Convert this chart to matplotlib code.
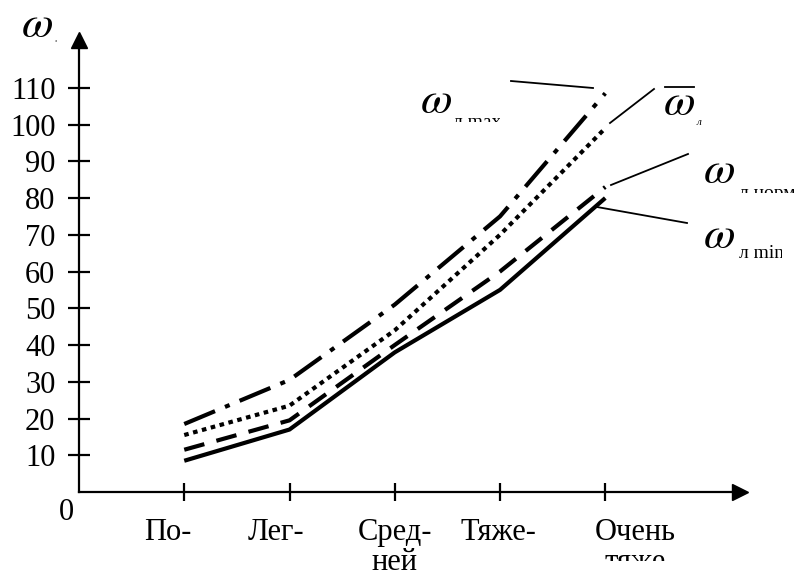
import matplotlib
matplotlib.use("Agg")
import matplotlib.pyplot as plt
from matplotlib.lines import Line2D
from matplotlib.transforms import ScaledTranslation, Bbox

plt.rcParams['font.family'] = ['Liberation Serif', 'DejaVu Serif']
plt.rcParams['mathtext.fontset'] = 'stix'

categories = ["По-", "Лег-", "Сред-\nней", "Тяже-", "Очень\nтяже"]
x_pos = [1, 2, 3, 4, 5]
w_min = [8.5, 17, 38, 55, 80]
w_norm = [11.5, 19.5, 40, 60, 83]
w_mean = [15.5, 23.5, 44, 70, 99]
w_max = [18.5, 30.5, 51, 75, 108.5]
y_ticks = [10, 20, 30, 40, 50, 60, 70, 80, 90, 100, 110]

W, H = 794, 576
fig = plt.figure(figsize=(W / 100, H / 100), dpi=100)


def fx(px):
    return px / W


def fy(py):
    return 1 - py / H


# axes: origin at pixel (79, 492), x-arrow ~740, y-arrow tip ~33
ax = fig.add_axes([fx(79), fy(492), fx(740) - fx(79), fy(40) - fy(492)])
ax.set_xlim(0, 6.28)
ax.set_ylim(0, 123)
ax.patch.set_alpha(0)

for s in ['top', 'right']:
    ax.spines[s].set_visible(False)
for s in ['left', 'bottom']:
    ax.spines[s].set_linewidth(1.6)

ax.plot(1, 0, marker='>', color='k', markersize=11, transform=ax.transAxes, clip_on=False)
ax.plot(0, 1, marker='^', color='k', markersize=11, transform=ax.transAxes, clip_on=False)

lw = 3.0
l1, = ax.plot(x_pos, w_min, color='k', lw=lw, solid_capstyle='butt', solid_joinstyle='round')
l2, = ax.plot(x_pos, w_norm, color='k', lw=lw, dashes=(5, 3.0), dash_capstyle='butt')
l3, = ax.plot(x_pos, w_mean, color='k', lw=lw, dashes=(1.1, 1.1), dash_capstyle='butt')
l4, = ax.plot(x_pos, w_max, color='k', lw=lw, dashes=(8, 2.6, 1.2, 2.6), dash_capstyle='butt')
for l in (l1, l2, l3, l4):
    l.set_clip_on(False)

ax.set_yticks(y_ticks)
ax.set_yticklabels([str(v) for v in y_ticks], fontsize=22)
ax.tick_params(axis='y', direction='inout', length=16, width=1.6, pad=9)
ax.set_xticks(x_pos)
ax.set_xticklabels(categories, fontsize=22, linespacing=1.08, va='top')
ax.tick_params(axis='x', direction='inout', length=13, width=1.6, pad=12)

offsets = [-16, -14, 0, -2, 30]
for lab, off in zip(ax.get_xticklabels(), offsets):
    lab.set_transform(lab.get_transform() + ScaledTranslation(off / 100, 0, fig.dpi_scale_trans))
# the last label's second line is only partly visible in the original
ax.get_xticklabels()[-1].set_clip_box(Bbox([[0, H - 561], [W, H]]))
ax.get_xticklabels()[-1].set_clip_on(True)

fig.text(fx(66), fy(512), "0", fontsize=22, ha='center', va='center')

# y-axis label
fig.text(fx(21), fy(37), r"$\omega$", fontsize=33, ha='left', va='baseline')
fig.text(fx(55), fy(42), "л", fontsize=3, ha='left', va='baseline')

# leader lines (figure pixel coords)
leaders = [((511, 81), (593, 88)),
           ((610, 123), (654, 89)),
           ((611, 185), (688, 154)),
           ((597, 207), (687, 223))]
for (x0, y0), (x1, y1) in leaders:
    fig.add_artist(Line2D([fx(x0), fx(x1)], [fy(y0), fy(y1)], color='k', lw=1.3,
                          transform=fig.transFigure))

# curve labels: omega glyphs (left x, baseline y)
omegas = [(420, 113), (663, 115), (703, 183), (703, 248)]
for x, y in omegas:
    fig.text(fx(x), fy(y), r"$\omega$", fontsize=33, ha='left', va='baseline')
# overline on mean omega
fig.add_artist(Line2D([fx(665), fx(694)], [fy(87), fy(87)], color='k', lw=1.3,
                      transform=fig.transFigure))
fig.text(fx(697), fy(125), "л", fontsize=8, style='italic', ha='left', va='baseline')

# subscripts (left x, baseline y, text, clip box in pixels x0, y0, x1, y1)
subs = [(453, 127, "л max", (0, 0, 500, 122)),
        (739, 198, "л норм", (0, 0, 794, 193)),
        (739, 258, "л min", (0, 0, 782, 576))]
for x, y, s, (cx0, cy0, cx1, cy1) in subs:
    t = fig.text(fx(x), fy(y), s, fontsize=14, ha='left', va='baseline')
    t.set_clip_box(Bbox([[cx0, H - cy1], [cx1, H - cy0]]))
    t.set_clip_on(True)

fig.savefig("out.png", dpi=100)
